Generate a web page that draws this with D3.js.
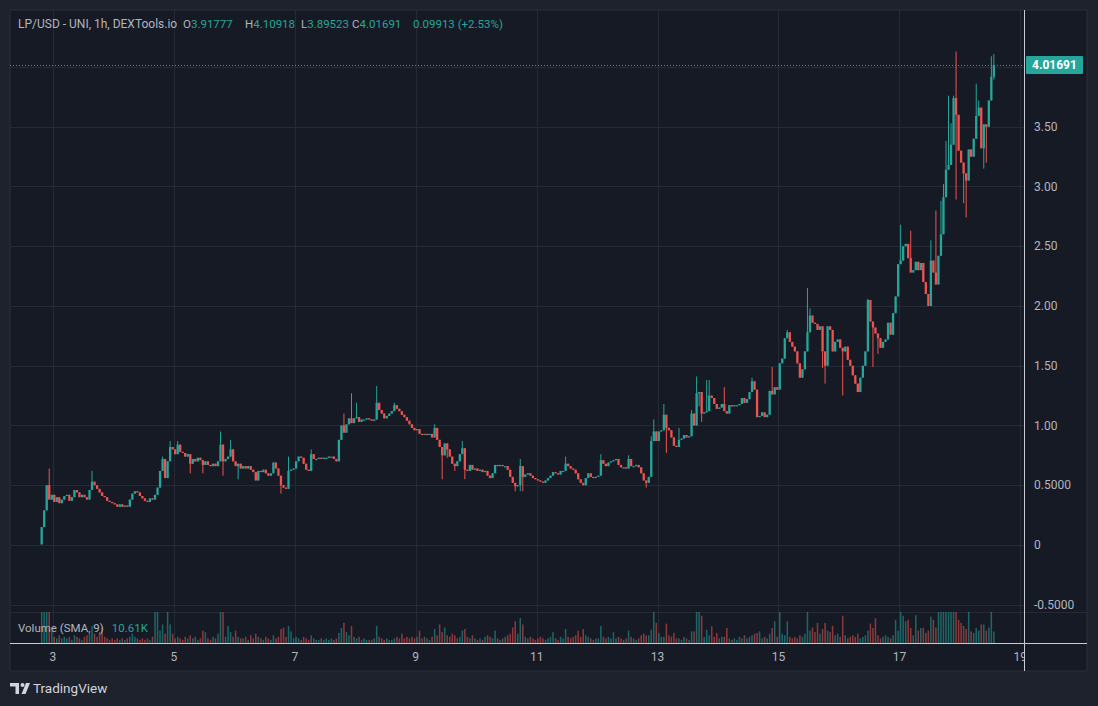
<!DOCTYPE html>
<html lang="en">
<head>
  <meta charset="UTF-8">
  <title>LP/USD - UNI, 1h</title>
  <script src="https://d3js.org/d3.v7.min.js"></script>
  <style>
    html, body { margin: 0; padding: 0; background: #1e222d; }
    svg { display: block; font-family: Roboto, "Liberation Sans", sans-serif; }
    .grid line { stroke: #262a35; stroke-width: 1px; shape-rendering: crispEdges; }
    .axis-label { fill: #b2b5be; font-size: 12px; }
    .legend { font-size: 11.5px; fill: #b2b5be; }
    .title { font-size: 12px; }
    .up { fill: #26a69a; }
  </style>
</head>
<body>
  <svg width="1098" height="706"></svg>

  <script>
    // hourly candles, first one at day 2 19:00
    const firstCandle = Date.UTC(2023, 4, 2, 19);
    const firstOpen = 0.005;

    // closes, one row per day
    const closes = [
      0.15, 0.29, 0.50, 0.38, 0.42,
      0.36, 0.40, 0.35, 0.38, 0.41, 0.42, 0.37, 0.40, 0.46, 0.44, 0.40, 0.42, 0.40, 0.38, 0.46, 0.53, 0.50, 0.47, 0.44, 0.41, 0.40, 0.37, 0.36, 0.35,
      0.34, 0.32, 0.34, 0.32, 0.33, 0.32, 0.38, 0.43, 0.45, 0.44, 0.41, 0.39, 0.37, 0.36, 0.39, 0.38, 0.42, 0.48, 0.62, 0.72, 0.56, 0.70, 0.82, 0.80,
      0.76, 0.84, 0.78, 0.77, 0.74, 0.76, 0.68, 0.72, 0.70, 0.73, 0.71, 0.67, 0.70, 0.67, 0.66, 0.68, 0.66, 0.70, 0.84, 0.70, 0.72, 0.74, 0.80, 0.70,
      0.66, 0.68, 0.64, 0.66, 0.64, 0.66, 0.63, 0.61, 0.54, 0.62, 0.61, 0.63, 0.60, 0.58, 0.60, 0.69, 0.64, 0.58, 0.50, 0.48, 0.47, 0.62, 0.63, 0.64,
      0.70, 0.74, 0.73, 0.68, 0.63, 0.62, 0.76, 0.72, 0.72, 0.73, 0.72, 0.73, 0.73, 0.74, 0.74, 0.72, 0.70, 0.88, 1.00, 0.94, 1.01, 1.06, 1.02, 1.06,
      1.07, 1.03, 1.05, 1.05, 1.06, 1.05, 1.04, 1.05, 1.19, 1.13, 1.10, 1.06, 1.08, 1.10, 1.12, 1.17, 1.14, 1.12, 1.09, 1.07, 1.04, 1.01, 0.98, 0.96,
      0.97, 0.93, 0.92, 0.93, 0.92, 0.93, 0.90, 0.98, 0.88, 0.82, 0.75, 0.85, 0.80, 0.74, 0.68, 0.66, 0.70, 0.76, 0.81, 0.63, 0.62, 0.67, 0.63, 0.64,
      0.62, 0.63, 0.61, 0.62, 0.58, 0.56, 0.60, 0.67, 0.66, 0.67, 0.66, 0.66, 0.63, 0.57, 0.52, 0.49, 0.50, 0.66, 0.57, 0.59, 0.60, 0.58, 0.56, 0.55,
      0.54, 0.53, 0.52, 0.54, 0.56, 0.58, 0.61, 0.60, 0.59, 0.62, 0.62, 0.68, 0.66, 0.64, 0.63, 0.60, 0.55, 0.52, 0.50, 0.56, 0.60, 0.57, 0.56, 0.57,
      0.58, 0.71, 0.68, 0.66, 0.69, 0.70, 0.71, 0.72, 0.67, 0.65, 0.65, 0.64, 0.72, 0.66, 0.66, 0.67, 0.65, 0.60, 0.54, 0.52, 0.57, 0.87, 0.95, 0.87,
      0.95, 0.96, 1.09, 0.98, 0.96, 0.90, 0.83, 0.82, 0.88, 0.89, 0.92, 0.90, 0.91, 1.10, 1.00, 1.27, 1.28, 1.10, 1.11, 1.12, 1.25, 1.23, 1.18, 1.14,
      1.15, 1.18, 1.12, 1.10, 1.17, 1.16, 1.17, 1.17, 1.18, 1.23, 1.19, 1.22, 1.28, 1.37, 1.30, 1.07, 1.08, 1.11, 1.07, 1.09, 1.29, 1.26, 1.32, 1.30,
      1.52, 1.56, 1.73, 1.78, 1.70, 1.66, 1.62, 1.52, 1.40, 1.47, 1.62, 1.78, 1.92, 1.86, 1.85, 1.80, 1.83, 1.62, 1.50, 1.83, 1.80, 1.62, 1.70, 1.72,
      1.65, 1.62, 1.66, 1.55, 1.50, 1.42, 1.35, 1.28, 1.40, 1.50, 1.62, 2.05, 1.87, 1.82, 1.77, 1.73, 1.65, 1.70, 1.72, 1.86, 1.76, 1.94, 2.08, 2.35,
      2.38, 2.50, 2.52, 2.40, 2.28, 2.30, 2.37, 2.30, 2.36, 2.20, 2.10, 2.00, 2.38, 2.28, 2.18, 2.42, 2.60, 2.91, 3.14, 3.18, 3.35, 3.74, 3.60, 3.30,
      3.20, 3.11, 3.05, 3.31, 3.25, 3.40, 3.59, 3.66, 3.32, 3.52, 3.50, 3.72, 3.91777, 4.01691
    ];

    // wicks that reach past the body: [candle index, price]
    const wickHighs = [
      [3, 0.64], [20, 0.62], [48, 0.74], [51, 0.87], [54, 0.87], [71, 0.95], [75, 0.88], [98, 0.74],
      [107, 0.80], [120, 1.10], [123, 1.27], [125, 1.19], [133, 1.33], [140, 1.19], [156, 1.01], [167, 0.87],
      [190, 0.72], [208, 0.74], [222, 0.76], [233, 0.75], [242, 0.91], [243, 1.05], [247, 1.18], [253, 0.98],
      [258, 1.13], [260, 1.41], [264, 1.38], [265, 1.38], [271, 1.32], [282, 1.40], [290, 1.49], [296, 1.80],
      [304, 2.15], [305, 1.98], [328, 2.06], [341, 2.68], [345, 2.63], [353, 2.55], [355, 2.80], [357, 2.88],
      [358, 3.02], [359, 3.38], [360, 3.76], [361, 3.53], [362, 3.76], [363, 4.13], [371, 3.86], [372, 3.72],
      [377, 4.09], [378, 4.10918]
    ];
    const wickLows = [
      [59, 0.60], [64, 0.60], [72, 0.58], [78, 0.55], [95, 0.43], [159, 0.55], [161, 0.73], [164, 0.62],
      [168, 0.55], [188, 0.45], [190, 0.45], [191, 0.45], [240, 0.48], [248, 0.77], [261, 1.16], [262, 1.03],
      [310, 1.48], [311, 1.35], [318, 1.25], [330, 1.49], [332, 1.60], [363, 2.89], [366, 2.86], [367, 2.74],
      [374, 3.15], [375, 3.20], [378, 3.89523]
    ];

    // volume in thousands, one row per day
    const volumes = [
      30, 26, 28, 24, 7.6,
      4, 3, 5, 3, 4, 3, 4, 2, 5, 4, 3, 2, 4, 5, 6, 11, 6, 4, 7, 10, 4, 3, 2, 3,
      2, 3, 2, 3, 2, 3, 4, 6, 4, 3, 2, 3, 2, 3, 2, 4, 30, 28, 8, 12, 6, 30, 12, 6,
      3, 4, 3, 2, 4, 3, 5, 3, 4, 2, 3, 8, 7, 3, 2, 4, 3, 6, 30, 26, 4, 11, 7, 4,
      8, 4, 3, 3, 4, 2, 5, 3, 6, 4, 3, 2, 4, 3, 2, 5, 3, 4, 9, 10, 4, 11, 7.5, 3,
      4, 3, 2, 4, 3, 2, 5, 3, 2, 2, 3, 2, 3, 2, 3, 2, 3, 6.5, 9.7, 13, 7, 5, 11, 4,
      3, 4, 2, 3, 2, 2, 2, 3, 11, 4, 3, 2, 3, 2, 2, 3, 4, 3, 6, 3, 4, 3, 4, 3,
      4, 8, 3, 4, 3, 2, 4, 9, 5, 12, 7, 10, 5, 4, 6, 5, 3, 4, 8, 9, 4, 3, 5, 3,
      2, 3, 2, 4, 5, 4, 3, 8, 3, 2, 3, 4, 5, 6, 10, 14, 6, 16, 12, 4, 3, 4, 3, 2,
      3, 4, 3, 2, 3, 4, 7, 3, 2, 4, 3, 9, 4, 3, 4, 5, 8, 4, 9, 5, 4, 3, 2, 3,
      3, 11, 4, 3, 4, 3, 7, 3, 4, 3, 2, 3, 8, 4, 3, 2, 3, 5, 6, 5, 5, 8.6, 30, 13,
      6.5, 4, 4, 12.5, 5, 4, 6.5, 3, 3, 2, 4, 3, 2, 7.5, 7.5, 30, 26, 17.6, 4, 8.6, 5, 10.8, 4, 6.5,
      3, 4, 4, 9.7, 3, 2, 3, 2, 4, 3, 5, 3, 4, 5, 6, 6.5, 7.5, 3, 4, 3, 6, 9.7, 14, 4,
      30, 6, 5, 14, 4, 3, 4, 3, 5, 4, 6, 30, 8, 10, 7, 13, 6, 9, 13, 8, 7, 11, 5, 6,
      4, 17.6, 5, 3, 4, 5, 4, 6, 3, 4, 5, 8, 12.5, 9.7, 16, 5, 3, 4, 5, 4, 3, 5, 15, 8,
      30, 17.6, 14, 15, 9.7, 5, 18, 8, 9.7, 9.7, 6.5, 8, 17, 15, 10, 30, 30, 30, 30, 30, 30, 30, 30, 15,
      13, 11, 9, 30, 7.5, 6.5, 9.7, 8, 12, 12, 8, 10, 30, 7.5
    ];

    const dayTicks = [3, 5, 7, 9, 11, 13, 15, 17, 19];
    const priceTicks = [-0.5, 0, 0.5, 1, 1.5, 2, 2.5, 3, 3.5, 4];
    const priceTickLabels = ["-0.5000", "0", "0.5000", "1.00", "1.50", "2.00", "2.50", "3.00", "3.50", ""];

    const header = [
      { label: "O", value: "3.91777", x: 183 },
      { label: "H", value: "4.10918", x: 245 },
      { label: "L", value: "3.89523", x: 301 },
      { label: "C", value: "4.01691", x: 352 }
    ];
    const change = "0.09913 (+2.53%)";
    const lastPrice = 4.01691;
    const volumeSma = "10.61K";

    const upColor = "#26a69a",
          downColor = "#ef5350";

    const svg = d3.select("svg");

    // panes
    const left = 10, right = 1024, axisRight = 1087;
    const priceTop = 10, priceBottom = 612;
    const volBottom = 643, panelBottom = 671;

    // build candles
    const hour = 3600 * 1000;
    const highMap = new Map(wickHighs), lowMap = new Map(wickLows);
    const candles = closes.map((c, i) => {
      const o = i === 0 ? firstOpen : closes[i - 1];
      return {
        t: new Date(firstCandle + i * hour + hour / 2),
        o: o,
        c: c,
        h: highMap.has(i) ? highMap.get(i) : Math.max(o, c),
        l: lowMap.has(i) ? lowMap.get(i) : Math.min(o, c),
        v: volumes[i]
      };
    });

    const x = d3.scaleUtc()
      .domain([new Date(Date.UTC(2023, 4, 2, 6, 56)), new Date(Date.UTC(2023, 4, 19, 1, 28))])
      .range([left, right]);

    const y = d3.scaleLinear()
      .domain([-0.5607, 4.477])
      .range([priceBottom, priceTop]);

    const yVol = d3.scaleLinear()
      .domain([0, 20])
      .range([volBottom, priceBottom])
      .clamp(true);

    // background
    svg.append("rect")
      .attr("x", left).attr("y", 10)
      .attr("width", axisRight - left).attr("height", panelBottom - 10)
      .attr("fill", "#161a25")
      .attr("stroke", "#2a2e39");

    const defs = svg.append("defs");
    defs.append("clipPath").attr("id", "plot")
      .append("rect").attr("x", left).attr("y", priceTop)
      .attr("width", right - left).attr("height", volBottom - priceTop);
    defs.append("clipPath").attr("id", "timeaxis")
      .append("rect").attr("x", left).attr("y", volBottom)
      .attr("width", right - left).attr("height", panelBottom - volBottom);

    // grid
    const grid = svg.append("g").attr("class", "grid");
    const tickDates = dayTicks.map(d => new Date(Date.UTC(2023, 4, d)));
    grid.selectAll(".vgrid")
      .data(tickDates)
      .enter().append("line")
      .attr("x1", d => Math.round(x(d)) + 0.5)
      .attr("x2", d => Math.round(x(d)) + 0.5)
      .attr("y1", priceTop)
      .attr("y2", volBottom)
      .attr("clip-path", "url(#plot)");
    grid.selectAll(".hgrid")
      .data(priceTicks)
      .enter().append("line")
      .attr("x1", left)
      .attr("x2", right)
      .attr("y1", d => Math.round(y(d)) + 0.5)
      .attr("y2", d => Math.round(y(d)) + 0.5);
    // pane separator
    grid.append("line")
      .attr("x1", left).attr("x2", axisRight)
      .attr("y1", priceBottom + 0.5).attr("y2", priceBottom + 0.5);

    const plot = svg.append("g").attr("clip-path", "url(#plot)");

    // volume
    plot.selectAll(".vol")
      .data(candles)
      .enter().append("rect")
      .attr("x", d => x(d.t) - 0.75)
      .attr("width", 1.5)
      .attr("y", d => yVol(d.v))
      .attr("height", d => volBottom - yVol(d.v))
      .attr("fill", d => d.c >= d.o ? upColor : downColor)
      .attr("opacity", 0.55);

    // candles
    const candle = plot.selectAll(".candle")
      .data(candles)
      .enter().append("g")
      .attr("fill", d => d.c >= d.o ? upColor : downColor)
      .attr("stroke", d => d.c >= d.o ? upColor : downColor);

    candle.append("line")
      .attr("x1", d => x(d.t))
      .attr("x2", d => x(d.t))
      .attr("y1", d => y(d.h))
      .attr("y2", d => y(d.l))
      .attr("stroke-width", 1);

    candle.append("rect")
      .attr("stroke", "none")
      .attr("x", d => x(d.t) - 1.15)
      .attr("width", 2.3)
      .attr("y", d => y(Math.max(d.o, d.c)))
      .attr("height", d => Math.max(1.2, Math.abs(y(d.o) - y(d.c))));

    // last price line
    svg.append("line")
      .attr("x1", left).attr("x2", right)
      .attr("y1", Math.round(y(lastPrice)) + 0.5)
      .attr("y2", Math.round(y(lastPrice)) + 0.5)
      .attr("stroke", upColor)
      .attr("stroke-dasharray", "1,2");

    // scale borders
    svg.append("line")
      .attr("x1", right + 0.5).attr("x2", right + 0.5)
      .attr("y1", 10).attr("y2", panelBottom)
      .attr("stroke", "#c8cbd3");
    svg.append("line")
      .attr("x1", left).attr("x2", axisRight)
      .attr("y1", volBottom + 0.5).attr("y2", volBottom + 0.5)
      .attr("stroke", "#c8cbd3");

    // price axis labels
    svg.selectAll(".ptick")
      .data(priceTicks)
      .enter().append("text")
      .attr("class", "axis-label")
      .attr("x", 1034)
      .attr("y", d => y(d))
      .attr("dy", "0.35em")
      .text((d, i) => priceTickLabels[i]);

    // last price badge
    svg.append("rect")
      .attr("x", 1026).attr("y", y(lastPrice) - 9)
      .attr("width", 57).attr("height", 18)
      .attr("rx", 1)
      .attr("fill", upColor);
    svg.append("text")
      .attr("x", 1054.5).attr("y", y(lastPrice))
      .attr("dy", "0.35em")
      .attr("text-anchor", "middle")
      .attr("fill", "#ffffff")
      .attr("font-size", 12)
      .attr("font-weight", 700)
      .text(lastPrice.toFixed(5));

    // time axis labels
    svg.append("g").attr("clip-path", "url(#timeaxis)")
      .selectAll("text")
      .data(dayTicks)
      .enter().append("text")
      .attr("class", "axis-label")
      .attr("x", (d, i) => x(tickDates[i]))
      .attr("y", 657)
      .attr("dy", "0.35em")
      .attr("text-anchor", "middle")
      .text(d => d);

    // legend
    svg.append("text").attr("class", "legend title").attr("x", 18).attr("y", 28)
      .text("LP/USD - UNI, 1h, DEXTools.io");
    header.forEach(h => {
      const t = svg.append("text").attr("class", "legend").attr("x", h.x).attr("y", 28);
      t.append("tspan").text(h.label);
      t.append("tspan").attr("class", "up").text(h.value);
    });
    svg.append("text").attr("class", "legend up").attr("x", 413).attr("y", 28).text(change);

    const volLegend = svg.append("text").attr("class", "legend").attr("x", 18).attr("y", 632);
    volLegend.append("tspan").text("Volume (SMA, 9)");
    volLegend.append("tspan").attr("class", "up").attr("dx", 8).text(volumeSma);

    // TradingView mark
    const logo = svg.append("g").attr("fill", "#d1d4dc");
    logo.append("path").attr("d", "M10,683 H19 V694 H15.5 V686.5 H10 Z");
    logo.append("circle").attr("cx", 22.5).attr("cy", 685).attr("r", 2);
    logo.append("path").attr("d", "M26,683 H30 L25.5,694 H21.5 Z");
    svg.append("text")
      .attr("x", 33).attr("y", 693)
      .attr("fill", "#d1d4dc")
      .attr("font-size", 13.5)
      .text("TradingView");
  </script>
</body>
</html>
